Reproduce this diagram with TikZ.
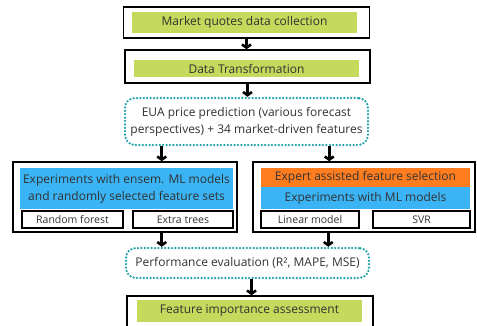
\documentclass[tikz,border=0pt]{standalone}
\usepackage{fontspec}
\setmainfont{Open Sans}
\usetikzlibrary{positioning,calc,arrows.meta}

\definecolor{stagegreen}{RGB}{197,217,92}
\definecolor{modelblue}{RGB}{58,180,245}
\definecolor{expertorange}{RGB}{255,125,30}
\definecolor{dotteal}{RGB}{30,160,170}
\definecolor{txtgray}{RGB}{50,50,50}

\tikzset{
  frame/.style={draw=black, line width=1.5pt, inner sep=0pt},
  stage/.style={fill=stagegreen, inner sep=0pt, text=txtgray, font=\fontsize{12}{14}\selectfont},
  fillbox/.style={inner sep=0pt, text=txtgray, align=center, font=\fontsize{12}{17}\selectfont},
  dotbox/.style={draw=dotteal, line width=2.5pt, dash pattern=on 0pt off 3.4pt, line cap=round,
    rounded corners=10pt, inner sep=0pt, align=center, text=txtgray, font=\fontsize{12}{17}\selectfont},
  model/.style={draw=black, line width=1.2pt, fill=white, inner sep=0pt, text=txtgray, font=\fontsize{10.5}{12}\selectfont},
  flow/.style={line width=2.6pt, -{Straight Barb[length=3.2pt,width=9pt]}}
}

\begin{document}
\begin{tikzpicture}[x=1pt,y=-1pt]
    \useasboundingbox (0,0) rectangle (477,325);

    % data collection and transformation
    \node[frame, minimum width=246pt, minimum height=31pt] (collect) at (246.5,22.5) {};
    \node[stage, minimum width=225pt, minimum height=21pt] (collecttxt) at (244.5,22.5) {Market quotes data collection};
    \node[frame, minimum width=245pt, minimum height=33pt] (transf) at (247.5,66.5) {};
    \node[stage, minimum width=225pt, minimum height=17pt] (transftxt) at (246.5,68.5) {Data Transformation};

    \node[dotbox, minimum width=243pt, minimum height=47pt] (predict) at (246.5,121.5)
        {EUA price prediction (various forecast\\perspectives) + 34 market-driven features};

    % ensemble models, random feature sets
    \node[frame, minimum width=224pt, minimum height=70pt] (left) at (125,197) {};
    \node[fillbox, fill=modelblue, minimum width=213pt, minimum height=41pt] (ensem) at (126.5,188.5)
        {Experiments with ensem. ML models\\and randomly selected feature sets};
    \node[model, minimum width=101pt, minimum height=17pt] (rf) at (72.5,219.5) {Random forest};
    \node[model, minimum width=100pt, minimum height=17pt] (et) at (183,219.5) {Extra trees};

    % expert feature selection, ML models
    \node[frame, minimum width=222pt, minimum height=70pt] (right) at (364,197) {};
    \node[fillbox, fill=expertorange, minimum width=209pt, minimum height=19pt] (expert) at (365.5,177.5)
        {Expert assisted feature selection};
    \node[fillbox, fill=modelblue, minimum width=209pt, minimum height=22pt] (mlexp) at (365.5,198)
        {Experiments with ML models};
    \node[model, minimum width=98pt, minimum height=17pt] (lm) at (310,219.5) {Linear model};
    \node[model, minimum width=97pt, minimum height=17pt] (svr) at (421.5,219.5) {SVR};

    \node[dotbox, minimum width=243pt, minimum height=30pt] (perf) at (247.5,263)
        {Performance evaluation (R², MAPE, MSE)};

    \node[frame, minimum width=246pt, minimum height=36pt] (feat) at (250,314) {};
    \node[stage, minimum width=225pt, minimum height=22pt] (feattxt) at (249.5,311) {Feature importance assessment};

    % arrows
    \draw[flow] (collect.south) -- (collect.south |- transf.north);
    \draw[flow] (transf.south) -- (transf.south |- predict.north);
    \draw[flow] ([xshift=38pt]predict.south west) -- ([xshift=38pt]predict.south west |- left.north);
    \draw[flow] ([xshift=-40pt]predict.south east) -- ([xshift=-40pt]predict.south east |- right.north);
    \draw[flow] ([xshift=37pt]perf.north west |- left.south) -- ([xshift=37pt]perf.north west);
    \draw[flow] ([xshift=-42pt]perf.north east |- right.south) -- ([xshift=-42pt]perf.north east);
    \draw[flow] ([xshift=4pt]perf.south) -- ([xshift=4pt]perf.south |- feat.north);
\end{tikzpicture}
\end{document}
